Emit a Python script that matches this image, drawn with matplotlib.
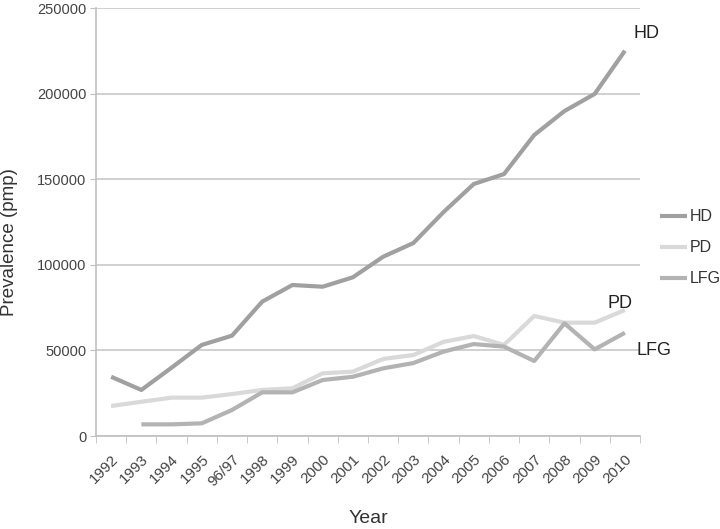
import matplotlib
matplotlib.use("Agg")
import matplotlib.pyplot as plt
import numpy as np

years = ["1992", "1993", "1994", "1995", "96/97", "1998", "1999", "2000", "2001",
         "2002", "2003", "2004", "2005", "2006", "2007", "2008", "2009", "2010"]
hd = [34600, 26900, 39900, 53200, 58600, 78500, 88200, 87200, 92700,
      104700, 112700, 130800, 147200, 153000, 175800, 189800, 199800, 225000]
pd_vals = [17500, 20000, 22400, 22400, 24500, 26900, 27900, 36600, 37600,
           45000, 47300, 55000, 58400, 53200, 70100, 66200, 66200, 73600]
lfg = [np.nan, 6800, 6800, 7400, 15200, 25500, 25500, 32700, 34600,
       39500, 42600, 49300, 53700, 52200, 43800, 65800, 50600, 60300]
yticks = [0, 50000, 100000, 150000, 200000, 250000]

plt.rcParams['font.family'] = ['Liberation Sans', 'DejaVu Sans']

fig = plt.figure(figsize=(7.2, 5.29), dpi=100)
ax = fig.add_axes([96/720, 1-436/529, (640-96)/720, (436-8)/529])

x = np.arange(len(years))
c_hd, c_pd, c_lfg = "#a0a0a0", "#d9d9d9", "#b3b3b3"
ax.plot(x, hd, color=c_hd, lw=3, label="HD", solid_capstyle="butt", zorder=3)
ax.plot(x, pd_vals, color=c_pd, lw=3, label="PD", solid_capstyle="butt", zorder=3)
ax.plot(x, lfg, color=c_lfg, lw=3, label="LFG", solid_capstyle="butt", zorder=3)

ax.set_xlim(-0.5, len(years) - 0.5)
ax.set_ylim(0, 250000)
ax.set_yticks(yticks)
ax.set_yticklabels([str(v) for v in yticks], fontsize=10.5, color="#444444")
ax.yaxis.grid(True, color="#c8c8c8", lw=1.2)
ax.set_axisbelow(True)

ax.set_xticks(x)
ax.set_xticklabels(years, rotation=45, ha="right", rotation_mode="anchor",
                   fontsize=11, color="#444444")
ax.set_xticks(np.arange(-0.5, len(years)), minor=True)
ax.tick_params(axis="x", which="major", length=0, pad=12)
ax.tick_params(axis="x", which="minor", length=5, color="#c0c0c0", direction="out")
ax.tick_params(axis="y", length=4, color="#c0c0c0", pad=3)

for s in ["top", "right"]:
    ax.spines[s].set_visible(False)
for s in ["left", "bottom"]:
    ax.spines[s].set_color("#c0c0c0")
    ax.spines[s].set_linewidth(1.2)

ax.set_ylabel("Prevalence (pmp)", fontsize=13.5, color="#333333")
ax.yaxis.set_label_coords(-0.143, 0.453)
ax.set_xlabel("Year", fontsize=14, color="#333333")
ax.xaxis.set_label_coords(0.5, -0.172)

ax.text(len(years) - 1 + 0.27, 235000, "HD", fontsize=13, color="#222222", va="center", ha="left")
ax.text(len(years) - 1 - 0.58, 77500, "PD", fontsize=13, color="#222222", va="center", ha="left")
ax.text(len(years) - 1 + 0.37, 50000, "LFG", fontsize=13, color="#222222", va="center", ha="left")

ax.legend(loc="center left", bbox_to_anchor=(1.01, 0.44), frameon=False,
          fontsize=11.5, handlelength=1.7, handletextpad=0.15, labelspacing=1.0,
          labelcolor="#333333")

fig.savefig("out.png", dpi=100)
